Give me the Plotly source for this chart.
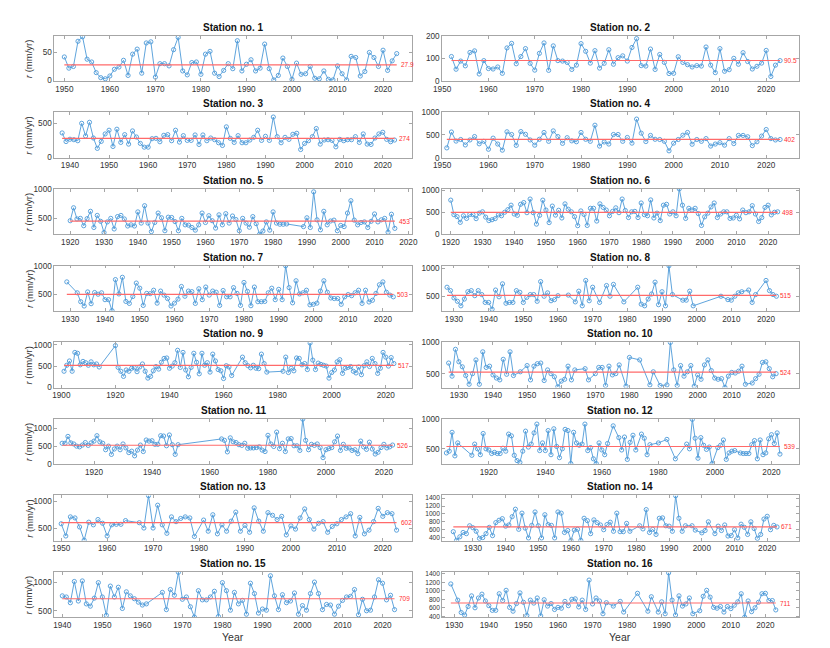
import plotly.graph_objects as go

# ---- data: annual values per station (mm/yr) ----
years1 = list(range(1950, 2024))
rain1 = [42, 22, 25, 70, 78, 38, 33, 14, 5, 3, 8, 20, 24, 36, 9, 47, 56, 13, 67, 69, 6, 30, 30, 26, 55, 77,
         17, 10, 32, 33, 11, 47, 52, 13, 7, 18, 30, 21, 71, 17, 29, 37, 17, 22, 65, 21, 1, 9, 40, 25,
         2, 31, 11, 12, 25, 4, 3, 17, 2, 1, 26, 12, 1, 43, 41, 8, 16, 50, 41, 25, 54, 18, 35, 48]

years2 = list(range(1952, 2024))
rain2 = [108, 52, 88, 67, 126, 133, 31, 90, 55, 53, 62, 34, 146, 166, 76, 108, 143, 78, 48, 122,
         168, 47, 155, 90, 88, 82, 51, 70, 165, 131, 79, 134, 57, 78, 138, 74, 103, 111, 88, 148,
         187, 68, 66, 141, 51, 117, 82, 33, 34, 107, 82, 72, 62, 68, 66, 150, 70, 37, 143, 43,
         50, 100, 74, 125, 86, 53, 65, 79, 135, 20, 70, 90]

years3 = list(range(1938, 2024))
rain3 = [355, 228, 262, 255, 240, 497, 310, 512, 280, 127, 230, 340, 395, 155, 410, 215, 330, 190, 385, 295,
         200, 145, 145, 270, 275, 225, 320, 330, 240, 395, 220, 315, 245, 245, 325, 185, 325, 240, 280, 255,
         210, 170, 445, 275, 215, 315, 210, 210, 250, 290, 395, 245, 305, 245, 590, 300, 210, 290, 260, 335,
         350, 110, 200, 240, 300, 420, 190, 250, 255, 245, 150, 260, 240, 255, 255, 300, 215, 340, 190, 185,
         280, 340, 365, 260, 225, 250]

years4 = list(range(1951, 2024))
rain4 = [215, 565, 365, 400, 280, 390, 465, 305, 360, 185, 430, 300, 165, 570, 510, 270, 575, 515, 390, 275,
         405, 555, 360, 590, 465, 315, 440, 370, 350, 555, 405, 360, 715, 255, 345, 300, 510, 510, 360, 445,
         320, 850, 540, 355, 490, 405, 400, 360, 150, 320, 400, 495, 555, 295, 400, 360, 420, 255, 300, 330,
         275, 420, 310, 490, 490, 460, 265, 350, 475, 620, 420, 390, 400]

years5 = list(range(1920, 1985)) + list(range(1989, 2017))
rain5 = [460, 680, 490, 500, 375, 495, 620, 345, 550, 450, 260, 440, 500, 320, 530, 550, 490, 370, 390, 370,
         610, 420, 715, 420, 275, 430, 590, 510, 290, 520, 515, 445, 290, 500, 390, 385, 345, 300, 390, 590,
         430, 545, 460, 335, 560, 390, 580, 420, 540, 480, 290, 500, 420, 350, 530, 410, 230, 285, 440, 300,
         610, 420, 400, 400, 405,
         360, 510, 345, 950, 475, 305, 620, 390, 455, 470, 290, 380, 360, 590, 800, 470, 390, 430, 440, 345,
         450, 575, 440, 475, 500, 265, 570, 330]

years6 = list(range(1920, 2024))
rain6 = [775, 445, 400, 270, 420, 360, 450, 445, 355, 480, 510, 390, 310, 330, 355, 440, 420, 500, 560, 660,
         460, 430, 680, 720, 490, 800, 490, 230, 430, 775, 550, 265, 640, 435, 545, 370, 690, 570, 510, 400,
         195, 530, 450, 200, 590, 590, 300, 690, 610, 550, 420, 520, 600, 490, 800, 540, 380, 510, 520, 380,
         710, 445, 420, 780, 370, 480, 310, 660, 680, 460, 510, 420, 1030, 660, 360, 590, 550, 590, 470, 200,
         395, 480, 620, 710, 380, 460, 510, 510, 360, 370, 430, 350, 550, 490, 510, 650, 460, 290, 380, 610,
         660, 440, 500, 510]

years7 = [1929] + list(range(1932, 2024))
rain7 = [720, 530, 375, 300, 545, 340, 535, 505, 530, 410, 410, 220, 760, 510, 800, 380, 345, 465, 700, 610,
         310, 520, 515, 575, 350, 560, 490, 430, 300, 350, 420, 640, 470, 560, 550, 345, 600, 410, 630, 490,
         560, 540, 310, 570, 460, 460, 620, 520, 310, 710, 555, 305, 630, 375, 375, 380, 530, 610, 410, 590,
         410, 1000, 620, 355, 740, 510, 530, 575, 320, 330, 350, 560, 740, 540, 440, 430, 430, 330, 460, 500,
         480, 530, 575, 345, 575, 370, 400, 520, 670, 720, 540, 490, 460]

years8 = (list(range(1928, 1961)) + [1963, 1965, 1966, 1967, 1968, 1969, 1970, 1972, 1974, 1975, 1976, 1979]
          + list(range(1983, 1994)) + [1996, 1997, 1998, 1999, 2007, 2009, 2010, 2011, 2012, 2013,
                                       2015, 2016, 2017, 2020, 2021, 2022, 2023])
rain8 = [660, 600, 470, 410, 330, 450, 580, 600, 510, 600, 530, 390, 390, 270, 610, 490, 720, 375, 390, 390,
         600, 570, 390, 480, 530, 530, 410, 760, 500, 560, 420, 440, 510,
         520, 400, 590, 330, 780, 420, 660, 390, 690, 500, 710, 400,
         660, 360, 330, 450, 540, 750, 350, 580, 330, 1040, 530,
         430, 430, 590, 330, 500, 440, 430, 500, 560, 580, 610, 390, 530, 780, 600, 530, 500]

years9 = list(range(1901, 1915)) + list(range(1920, 1964)) + list(range(1967, 1977)) + list(range(1982, 2024))
rain9 = [380, 520, 620, 380, 820, 800, 530, 610, 580, 520, 600, 530, 550, 480,
         980, 470, 380, 260, 410, 380, 450, 460, 370, 480, 550, 380, 220, 260, 390, 490, 430, 590, 680, 690,
         450, 500, 580, 870, 470, 820, 410, 250, 470, 800, 590, 320, 800, 520, 580, 360, 780, 620, 420, 390,
         210, 510, 480, 280,
         710, 580, 510, 460, 520, 450, 440, 780, 560, 360,
         380, 710, 350, 450, 390, 690, 680, 530, 560, 420, 1040, 640, 420, 570, 540, 520, 500, 220,
         350, 410, 600, 650, 330, 450, 470, 490, 380, 340, 480, 300, 510, 600, 490, 680, 560, 330, 450, 820,
         710, 500, 700, 560]

years10 = (list(range(1927, 1947)) + [1948] + list(range(1950, 1965)) + [1967, 1968] + list(range(1970, 1978))
           + [1979, 1980, 1983, 1986, 1987, 1989] + list(range(1991, 2015)) + list(range(2016, 2024)))
rain10 = [670, 460, 890, 690, 610, 470, 330, 500, 720, 330, 850, 600, 620, 480, 430, 400, 730, 490, 850, 470,
          530,
          630, 400, 620, 660, 670, 390, 560, 500, 450, 290, 380, 410, 620, 400, 560,
          580, 400,
          500, 600, 600, 310, 620, 480, 500, 640,
          300, 760, 720, 320, 530, 310,
          320, 1000, 560, 310, 630, 460, 530, 630, 300, 480, 410, 640, 720, 550, 430, 410, 420, 280, 460, 520,
          510, 540, 620, 330,
          350, 420, 490, 680, 690, 580, 450, 500]

years11 = list(range(1909, 1950)) + list(range(1964, 2024))
rain11 = [580, 580, 770, 590, 560, 500, 480, 530, 600, 520, 590, 640, 790, 620, 580, 400, 500, 270, 420, 500,
          400, 560, 450, 320, 360, 230, 390, 530, 350, 670, 640, 650, 550, 550, 790, 780, 510, 810, 540, 270,
          540,
          700, 660, 340, 730, 620, 600, 540, 520, 580, 440, 450, 450, 460, 480, 390, 350, 800, 560, 490, 890,
          430, 580, 350, 700, 710, 510, 510, 380, 1250, 660, 400, 550, 520, 560, 460, 180, 400, 430, 460, 620,
          780, 380, 550, 440, 450, 380, 400, 290, 640, 480, 410, 610, 420, 280, 330, 460, 550, 450, 480, 530]

years12 = (list(range(1905, 1910)) + list(range(1914, 1963))
           + [1964, 1966, 1967, 1968, 1969, 1970, 1971, 1972, 1974, 1975, 1976, 1977, 1980, 1983, 1986]
           + list(range(1990, 2000)) + list(range(2001, 2008)) + list(range(2009, 2024)))
rain12 = [430, 460, 780, 380, 600,
          390, 580, 500, 400, 760, 500, 480, 420, 440, 420, 420, 510, 460, 750, 720, 390, 300, 270, 460, 800,
          530, 580, 770, 920, 470, 600, 470, 810, 400, 840, 540, 350, 500, 830, 810, 250, 780, 600, 560, 580,
          920, 470, 520, 330, 250, 600, 480, 400, 590,
          890, 690, 480, 700, 320, 610, 730, 480, 750, 680, 400, 570, 600, 660, 330,
          580, 500, 1000, 680, 340, 690, 560, 490, 530, 250,
          520, 560, 650, 320, 430, 460, 470,
          430, 420, 420, 420, 570, 640, 330, 650, 400, 430, 670, 740, 590, 770, 410]

years13 = list(range(1950, 1965)) + list(range(1967, 1980)) + list(range(1981, 2024))
rain13 = [580, 350, 710, 690, 520, 270, 610, 560, 660, 590, 350, 560, 570, 570, 640,
          600, 500, 1110, 500, 930, 560, 400, 710, 620, 680, 710, 690, 340,
          650, 440, 750, 390, 560, 440, 630, 800, 440, 550, 420, 880, 630, 440, 790, 740, 660, 720, 370, 540,
          480, 690, 860, 660, 480, 590, 620, 420, 530, 580, 660, 710, 770, 350, 700, 390, 460, 620, 870, 720,
          790, 770, 460]

years14 = (list(range(1924, 1979)) + list(range(1981, 1996)) + [1997, 1998, 2000, 2001, 2002]
           + list(range(2004, 2024)))
rain14 = [550, 330, 420, 530, 500, 700, 650, 560, 380, 400, 500, 660, 450, 780, 840, 880, 690, 720, 930, 1120,
          610, 1020, 640, 390, 710, 1050, 700, 390, 980, 730, 710, 390, 1050, 1020, 530, 580, 330, 590, 610, 330,
          890, 830, 500, 850, 780, 720, 600, 730, 790, 560, 1020, 550, 550, 760, 560,
          700, 620, 1110, 530, 610, 480, 890, 900, 700, 690, 560, 1460, 890, 560, 700,
          700, 590, 520, 580, 800,
          500, 690, 580, 720, 440, 450, 600, 390, 740, 660, 480, 800, 630, 380, 480, 870, 940, 600, 710, 670]

years15 = list(range(1940, 1962)) + list(range(1965, 2024))
rain15 = [760, 740, 640, 1010, 670, 1020, 620, 580, 720, 990, 740, 420, 930, 740, 910, 540, 830, 760, 710, 650,
          600, 620,
          820, 520, 870, 770, 1170, 700, 740, 570, 390, 850, 690, 690, 740, 840, 400, 990, 850, 510, 820, 620,
          680, 440, 980, 800, 460, 530, 510, 1110, 760, 520, 780, 640, 670, 810, 440, 590, 510, 800, 1000, 800,
          520, 610, 600, 440, 580, 680, 740, 750, 870, 430, 700, 500, 510, 740, 1040, 980, 690, 770, 520]

years16 = ([1929] + list(range(1931, 1975)) + [1976, 1978, 1979, 1983, 1986, 1987, 1989, 1990, 1991]
           + list(range(1992, 2000)) + list(range(2001, 2024)))
rain16 = [1160,
          780, 490, 430, 630, 880, 600, 830, 920, 760, 650, 540, 540, 930, 770, 1010, 610, 520, 700, 950, 730,
          420, 780, 710, 830, 410, 790, 640, 700, 560, 610, 590, 750, 650, 800, 810, 620, 780, 560, 1250, 690,
          830, 760, 460, 720,
          640, 750, 500, 940, 520, 860, 500, 740, 460,
          1420, 780, 430, 880, 640, 690, 830, 460,
          530, 870, 1010, 850, 610, 590, 630, 500, 630, 580, 660, 740, 930, 380, 760, 510, 600, 730, 930, 940,
          770, 770, 550]

station_years = [years1, years2, years3, years4, years5, years6, years7, years8,
                 years9, years10, years11, years12, years13, years14, years15, years16]
station_rain = [rain1, rain2, rain3, rain4, rain5, rain6, rain7, rain8,
                rain9, rain10, rain11, rain12, rain13, rain14, rain15, rain16]
means = [27.9, 90.5, 274, 402, 453, 498, 503, 515, 517, 524, 526, 539, 602, 671, 709, 711]
mean_labels = ["27.9", "90.5", "274", "402", "453", "498", "503", "515",
               "517", "524", "526", "539", "602", "671", "709", "711"]

# axis limits and ticks
xlims = [[1947.8, 2026.3], [1950, 2027], [1936, 2027.4], [1950, 2027],
         [1915.3, 2021], [1917.3, 2029.6], [1925.4, 2028.3], [1926.6, 2029.4],
         [1897.4, 2029.6], [1925.1, 2029.6], [1906.3, 2029.6], [1903.5, 2029.6],
         [1948.5, 2026.3], [1920.6, 2029.6], [1938, 2027.3], [1926.5, 2029.6]]
xsteps = [10, 10, 10, 10, 10, 10, 10, 10, 20, 10, 20, 20, 10, 10, 10, 10]
ylims = [[-1, 80], [0, 200], [-10, 660], [0, 1000],
         [230, 1000], [0, 1030], [215, 1005], [240, 1045],
         [0, 1060], [278, 1005], [0, 1260], [240, 1010],
         [260, 1115], [320, 1470], [385, 1175], [375, 1440]]
yticks = [[0, 50], [0, 100, 200], [0, 500], [0, 500, 1000],
          [500, 1000], [0, 500, 1000], [500, 1000], [500, 1000],
          [0, 500, 1000], [500, 1000], [0, 500, 1000], [500, 1000],
          [500, 1000], [400, 600, 800, 1000, 1200, 1400], [500, 1000], [400, 600, 800, 1000, 1200, 1400]]

W, H = 830, 648
BLUE = "#4d9ad8"
RED = "#ff6a6a"
AXC = "#a6a6a6"
FONT = "Liberation Sans"

col_px = [(38, 402), (433, 796)]
top0, pitch, box_h = 24, 77.7, 46

fig = go.Figure()
annotations = []

for i in range(16):
    n = i + 1
    row, col = i // 2, i % 2
    xs = "" if n == 1 else str(n)
    yrs, r = station_years[i], station_rain[i]

    fig.add_trace(go.Scatter(
        x=yrs, y=r, mode="lines+markers", xaxis="x" + xs, yaxis="y" + xs,
        line=dict(color=BLUE, width=0.9),
        marker=dict(symbol="circle-open", size=4.2, color=BLUE, line=dict(width=0.9)),
        hoverinfo="skip"))
    fig.add_trace(go.Scatter(
        x=[yrs[0], yrs[-1]], y=[means[i], means[i]], mode="lines",
        xaxis="x" + xs, yaxis="y" + xs,
        line=dict(color=RED, width=1.1), hoverinfo="skip"))

    left, right = col_px[col]
    top = top0 + pitch * row
    bottom = top + box_h
    xdom = [left / W, right / W]
    ydom = [1 - bottom / H, 1 - top / H]
    ysize = 6.6 if len(yticks[i]) > 3 else 8.2

    fig.layout["xaxis" + xs] = dict(
        domain=xdom, range=xlims[i], anchor="y" + xs, dtick=xsteps[i], tick0=1900,
        showline=True, linecolor=AXC, linewidth=0.8, mirror="ticks",
        ticks="inside", ticklen=3, tickcolor=AXC, tickwidth=0.8,
        showgrid=False, zeroline=False,
        tickfont=dict(size=8.2, color="#333333", family=FONT))
    fig.layout["yaxis" + xs] = dict(
        domain=ydom, range=ylims[i], anchor="x" + xs, tickvals=yticks[i],
        showline=True, linecolor=AXC, linewidth=0.8, mirror="ticks",
        ticks="inside", ticklen=3, tickcolor=AXC, tickwidth=0.8,
        showgrid=False, zeroline=False,
        tickfont=dict(size=ysize, color="#333333", family=FONT))

    annotations.append(dict(
        text="<b>Station no. %d</b>" % n, xref="paper", yref="paper",
        x=(xdom[0] + xdom[1]) / 2, y=1 - (top - 1) / H, xanchor="center", yanchor="bottom",
        showarrow=False, font=dict(size=10, color="#111111", family=FONT)))
    annotations.append(dict(
        text=mean_labels[i], xref="x" + xs, yref="y" + xs, x=yrs[-1], y=means[i],
        xanchor="left", yanchor="middle", xshift=2, showarrow=False,
        font=dict(size=6.5, color="#ff3030", family=FONT)))
    if col == 0:
        annotations.append(dict(
            text="<i>r</i> (mm/yr)", xref="paper", yref="paper",
            x=12 / W, y=(ydom[0] + ydom[1]) / 2, xanchor="center", yanchor="middle",
            textangle=-90, showarrow=False, font=dict(size=9.5, color="#333333", family=FONT)))
    if row == 7:
        annotations.append(dict(
            text="Year", xref="paper", yref="paper",
            x=(xdom[0] + xdom[1]) / 2, y=1 - 634 / H, xanchor="center", yanchor="middle",
            showarrow=False, font=dict(size=10.5, color="#333333", family=FONT)))

fig.update_layout(
    width=W, height=H, margin=dict(l=0, r=0, t=0, b=0),
    paper_bgcolor="white", plot_bgcolor="white", showlegend=False,
    font=dict(family=FONT), annotations=annotations)

fig.write_html("out.html")
